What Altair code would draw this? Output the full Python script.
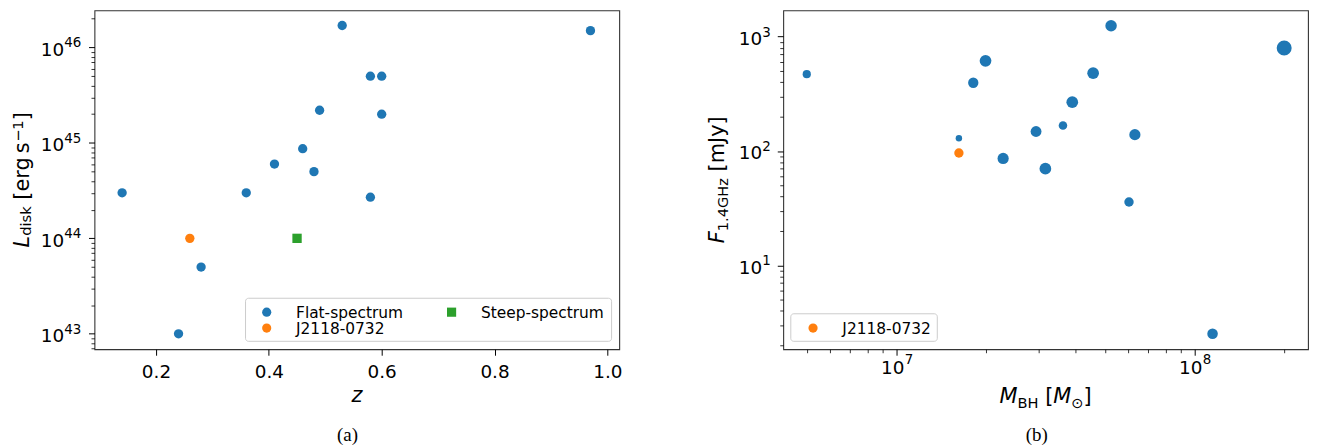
import math
import altair as alt
import pandas as pd

# ---------------- panel (a): L_disk vs z ----------------
z_flat = [0.14, 0.24, 0.28, 0.36, 0.41, 0.46, 0.48, 0.49, 0.53, 0.58, 0.58, 0.60, 0.60, 0.97]
ldisk_flat = [3.0e44, 1.0e43, 5.0e43, 3.0e44, 6.0e44, 8.7e44, 5.0e44, 2.2e45,
              1.7e46, 5.0e45, 2.7e44, 5.0e45, 2.0e45, 1.5e46]
z_j2118 = [0.26]
ldisk_j2118 = [1.0e44]
z_steep = [0.45]
ldisk_steep = [1.0e44]

# ---------------- panel (b): F_1.4GHz vs M_BH ----------------
mbh_flat = [5.0e6, 1.62e7, 1.81e7, 1.99e7, 2.28e7, 2.94e7, 3.16e7, 3.62e7,
            3.89e7, 4.57e7, 5.25e7, 6.03e7, 6.31e7, 1.15e8, 2.0e8]
f14_flat = [470, 129, 395, 615, 86, 148, 70, 167, 267, 479, 1245, 35.8, 139, 2.52, 795]
weight_flat = [6.8, 4.2, 10.8, 13.9, 12.7, 11.9, 13.9, 7.4, 13.9, 13.9, 13.3, 9.0, 12.7, 11.3, 22.7]
mbh_j2118 = [1.62e7]
f14_j2118 = [96]

cat_names = ["Flat-spectrum", "J2118-0732", "Steep-spectrum"]
cat_colors = ["#1f77b4", "#ff7f0e", "#2ca02c"]
cat_shapes = ["circle", "circle", "square"]
cat_sizes = [88, 88, 106]

FONT = "DejaVu Sans"
W, H = 528, 341
TICK_FS = 18.5
EXP_FS = 13.5
LEG_FS = 15.5

df_a = pd.concat([
    pd.DataFrame({"z": z_flat, "L": ldisk_flat, "type": "Flat-spectrum"}),
    pd.DataFrame({"z": z_j2118, "L": ldisk_j2118, "type": "J2118-0732"}),
    pd.DataFrame({"z": z_steep, "L": ldisk_steep, "type": "Steep-spectrum"}),
], ignore_index=True)
df_b = pd.DataFrame({"M": mbh_flat, "F": f14_flat, "w": weight_flat})
df_bj = pd.DataFrame({"M": mbh_j2118, "F": f14_j2118, "type": "J2118-0732"})


def exp_expr(values):
    parts = [f"datum.value == {v!r} ? '{round(math.log10(v))}'" for v in values]
    return " : ".join(parts) + " : ''"


def minor_values(lo, hi):
    out = []
    for e in range(math.floor(math.log10(lo)), math.ceil(math.log10(hi)) + 1):
        for m in range(2, 10):
            v = m * 10.0 ** e
            if lo <= v <= hi:
                out.append(v)
    return out


def base_axis(values, orient, **kw):
    opts = dict(values=values, orient=orient, domain=False, grid=False, ticks=True,
                tickSize=6, tickWidth=1, tickColor="black", labelFont=FONT,
                labelFontSize=TICK_FS, labelColor="black", labelFlush=False,
                labelOverlap=False, title=None)
    opts.update(kw)
    return alt.Axis(**opts)


def exp_axis(values, orient, **kw):
    opts = dict(values=values, orient=orient, domain=False, grid=False, ticks=False,
                labelFont=FONT, labelFontSize=EXP_FS, labelColor="black",
                labelFlush=False, labelOverlap=False, title=None,
                labelExpr=exp_expr(values))
    opts.update(kw)
    return alt.Axis(**opts)


def minor_axis(values, orient):
    return alt.Axis(values=values, orient=orient, domain=False, grid=False,
                    labels=False, ticks=True, tickSize=3.5, tickWidth=0.8,
                    tickColor="black", title=None)


EM = {" ": 0.318, "\u2009": 0.2, "[": 0.390, "]": 0.390, ".": 0.318, "−": 0.838,
      "B": 0.686, "F": 0.575, "G": 0.775, "H": 0.752, "J": 0.295, "L": 0.557,
      "M": 0.863, "d": 0.635, "e": 0.615, "g": 0.635, "i": 0.278, "k": 0.579,
      "m": 0.974, "r": 0.411, "s": 0.521, "y": 0.592, "z": 0.525, "⊙": 0.838}
for _d in "0123456789":
    EM[_d] = 0.636


def tw(s, size):
    return sum(EM.get(c, 0.6) for c in s) * size


def one_row(text):
    return pd.DataFrame({"t": [text]})


def rich_text(segments, x, y, angle=0):
    total = sum(tw(t, fs) for t, fs, st, dy in segments)
    off = -total / 2
    layers = []
    for t, fs, st, dy in segments:
        lead = len(t) - len(t.lstrip(" "))
        off += lead * EM[" "] * fs
        body = t.lstrip(" ")
        layers.append(
            alt.Chart(one_row(body))
            .mark_text(align="left", baseline="alphabetic", font=FONT, fontSize=fs,
                       fontStyle=st, angle=angle, dx=off, dy=dy, color="black")
            .encode(x=alt.value(x), y=alt.value(y), text="t:N")
        )
        off += tw(body, fs)
    return layers


def caption(label, x, y):
    return (alt.Chart(one_row(label))
            .mark_text(align="center", baseline="alphabetic", font="Liberation Serif",
                       fontSize=19, color="black")
            .encode(x=alt.value(x), y=alt.value(y), text="t:N"))


def legend_box(x0, y0, x1, y1, entries):
    """matplotlib-style legend frame; entries = (label, colour, shape, sx, sy)."""
    layers = [
        alt.Chart(one_row("")).mark_rect(cornerRadius=3, fill="white", stroke="#cccccc",
                                         strokeWidth=1)
        .encode(x=alt.value(x0), x2=alt.value(x1), y=alt.value(y0), y2=alt.value(y1))
    ]
    for label, colour, shape, sx, sy in entries:
        layers.append(
            alt.Chart(one_row(label)).mark_point(filled=True, opacity=1, shape=shape,
                                                 size=85, color=colour)
            .encode(x=alt.value(sx), y=alt.value(sy)))
        layers.append(
            alt.Chart(one_row(label)).mark_text(align="left", baseline="middle", font=FONT,
                                                fontSize=LEG_FS, color="black")
            .encode(x=alt.value(sx + 29.5), y=alt.value(sy + 0.5), text="t:N"))
    return layers


# ---------------- panel (a) ----------------
xa_scale = alt.Scale(domain=[0.091, 1.021], nice=False, zero=False)
ya_lo, ya_hi = 10 ** 42.838, 10 ** 46.389
ya_scale = alt.Scale(type="log", domain=[ya_lo, ya_hi], nice=False)
ya_major = [1e43, 1e44, 1e45, 1e46]
xa_major = [0.2, 0.4, 0.6, 0.8, 1.0]

pts_a = alt.Chart(df_a).mark_point(filled=True, opacity=1).encode(
    x=alt.X("z:Q", scale=xa_scale,
            axis=base_axis(xa_major, "bottom", format=".1f", labelPadding=7)),
    y=alt.Y("L:Q", scale=ya_scale,
            axis=base_axis(ya_major, "left", labelExpr="'10'", labelAlign="right",
                           labelBaseline="middle", labelPadding=24.9, labelOffset=2)),
    color=alt.Color("type:N", scale=alt.Scale(domain=cat_names, range=cat_colors), legend=None),
    shape=alt.Shape("type:N", scale=alt.Scale(domain=cat_names, range=cat_shapes), legend=None),
    size=alt.Size("type:N", scale=alt.Scale(domain=cat_names, range=cat_sizes), legend=None),
)
minor_a = alt.Chart(df_a).mark_point(opacity=0).encode(
    x=alt.X("z:Q", scale=xa_scale, axis=None),
    y=alt.Y("L:Q", scale=ya_scale, axis=minor_axis(minor_values(ya_lo, ya_hi), "left")),
)
exp_a = alt.Chart(df_a).mark_point(opacity=0).encode(
    x=alt.X("z:Q", scale=xa_scale, axis=None),
    y=alt.Y("L:Q", scale=ya_scale,
            axis=exp_axis(ya_major, "left", labelAlign="left", labelBaseline="middle",
                          labelPadding=30.9, labelOffset=-4.5)),
)
leg_a = legend_box(152, 289.7, 520.3, 333, [
    (cat_names[0], cat_colors[0], cat_shapes[0], 173.3, 303.7),
    (cat_names[1], cat_colors[1], cat_shapes[1], 173.3, 319.7),
    (cat_names[2], cat_colors[2], cat_shapes[2], 359.3, 303.7),
])
texts_a = rich_text([("L", 21, "italic", 0), ("disk", 14.7, "normal", 2),
                     (" [erg\u2009s", 21, "normal", 0), ("−1", 14.7, "normal", -7),
                     ("]", 21, "normal", 0)], -65.4, H / 2, angle=270)
texts_a += rich_text([("z", 21, "italic", 0)], W / 2, 393.7)
panel_a = alt.layer(pts_a, minor_a, exp_a, *leg_a, *texts_a,
                    caption("(a)", 254.6, 433)).resolve_axis(
    x="independent", y="independent").properties(width=W, height=H)

# ---------------- panel (b) ----------------
xb_lo, xb_hi = 10 ** 6.62, 10 ** 8.381
yb_lo, yb_hi = 10 ** 0.266, 10 ** 3.23
xb_scale = alt.Scale(type="log", domain=[xb_lo, xb_hi], nice=False)
yb_scale = alt.Scale(type="log", domain=[yb_lo, yb_hi], nice=False)
xb_major = [1e7, 1e8]
yb_major = [1e1, 1e2, 1e3]

pts_b = alt.Chart(df_b).mark_point(filled=True, opacity=1, color="#1f77b4").encode(
    x=alt.X("M:Q", scale=xb_scale,
            axis=base_axis(xb_major, "bottom", labelExpr="'10'", labelAlign="right",
                           labelBaseline="top", labelPadding=3.5, labelOffset=7.5)),
    y=alt.Y("F:Q", scale=yb_scale,
            axis=base_axis(yb_major, "left", labelExpr="'10'", labelAlign="right",
                           labelBaseline="middle", labelPadding=15.6, labelOffset=2)),
    size=alt.Size("w:Q", scale=alt.Scale(domain=[0, 25], range=[0, 250]), legend=None),
)
pts_bj = alt.Chart(df_bj).mark_point(filled=True, opacity=1, shape="circle", size=88).encode(
    x=alt.X("M:Q", scale=xb_scale, axis=None),
    y=alt.Y("F:Q", scale=yb_scale, axis=None),
    color=alt.Color("type:N", scale=alt.Scale(domain=["J2118-0732"], range=["#ff7f0e"]),
                    legend=None),
)
minor_b = alt.Chart(df_b).mark_point(opacity=0).encode(
    x=alt.X("M:Q", scale=xb_scale, axis=minor_axis(minor_values(xb_lo, xb_hi), "bottom")),
    y=alt.Y("F:Q", scale=yb_scale, axis=minor_axis(minor_values(yb_lo, yb_hi), "left")),
)
exp_b = alt.Chart(df_b).mark_point(opacity=0).encode(
    x=alt.X("M:Q", scale=xb_scale,
            axis=exp_axis(xb_major, "bottom", labelAlign="left", labelBaseline="top",
                          labelPadding=3.2, labelOffset=7.8)),
    y=alt.Y("F:Q", scale=yb_scale,
            axis=exp_axis(yb_major, "left", labelAlign="left", labelBaseline="middle",
                          labelPadding=21.6, labelOffset=-4.5)),
)
leg_b = legend_box(7.6, 305.3, 155, 333, [
    (cat_names[1], cat_colors[1], cat_shapes[1], 30, 319.7),
])
texts_b = rich_text([("F", 21, "italic", 0), ("1.4GHz", 14.7, "normal", 3.5),
                     (" [mJy]", 21, "normal", 0)], -59.5, H / 2, angle=270)
texts_b += rich_text([("M", 21, "italic", 0), ("BH", 14.7, "normal", 5),
                      (" [", 21, "normal", 0), ("M", 21, "italic", 0),
                      ("⊙", 14.7, "normal", 5), ("]", 21, "normal", 0)], W / 2, 394.7)
panel_b = alt.layer(pts_b, pts_bj, minor_b, exp_b, *leg_b, *texts_b,
                    caption("(b)", 255, 433)).resolve_axis(
    x="independent", y="independent").properties(width=W, height=H)

chart = (
    alt.hconcat(panel_a, panel_b, spacing=83)
    .resolve_scale(color="independent", shape="independent", size="independent")
    .properties(padding={"left": 2, "top": 0, "right": 0, "bottom": 0}, background="white")
    .configure_view(stroke="#333333", strokeWidth=1.1)
)

chart.save("out.html", embed_options={"renderer": "svg", "actions": False})
